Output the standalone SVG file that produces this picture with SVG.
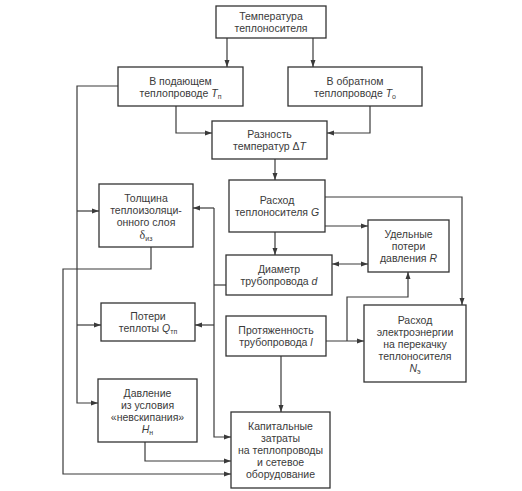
<svg xmlns="http://www.w3.org/2000/svg" width="522" height="491" viewBox="0 0 522 491">
<defs>
<marker id="ah" viewBox="0 0 7 6" refX="7" refY="3" markerWidth="7" markerHeight="6" markerUnits="userSpaceOnUse" orient="auto-start-reverse">
<path d="M0,0.5 L7,3 L0,5.5 z" fill="#3a3a3a"/>
</marker>
</defs>
<style>
.box{fill:#fff;stroke:#333;stroke-width:1.3}
.t{font-family:"Liberation Sans",Arial,sans-serif;font-size:10.5px;fill:#3a3a3a;text-anchor:middle}
.i{font-style:italic}
.s{font-size:7px}
.c{fill:none;stroke:#3a3a3a;stroke-width:1.2}
.a{marker-end:url(#ah)}
</style>
<rect width="522" height="491" fill="#fff"/>
<g id="connectors">
<path class="c a" d="M227,38 V67"/>
<path class="c a" d="M313,38 V67"/>
<path class="c a" d="M176,106 V133 H212"/>
<path class="c a" d="M370,106 V133 H327"/>
<path class="c a" d="M275,159 V180"/>
<path class="c a" d="M275,232 V255"/>
<path class="c a" d="M325,226 H368"/>
<path class="c a" d="M325,197 H462 V305"/>
<path class="c a" d="M332,264 H368" marker-start="url(#ah)"/>
<path class="c a" d="M326,341 H364"/>
<path class="c a" d="M347,341 V297 H408 V272"/>
<path class="c a" d="M281,356 V412"/>
<path class="c" d="M226,285 H214"/>
<path class="c a" d="M214,208 H193"/>
<path class="c a" d="M214,208 V437 H231"/>
<path class="c a" d="M214,325 H195"/>
<path class="c a" d="M118,86 H77 V403 H98"/>
<path class="c a" d="M77,211 H99"/>
<path class="c a" d="M77,325 H101"/>
<path class="c a" d="M151,247 V269 H63 V474 H231"/>
<path class="c a" d="M145,442 V461 H231"/>
</g>
<g id="n-temp">
<rect class="box" x="216" y="6" width="110" height="32"/>
<text class="t" x="271" y="20">Температура</text>
<text class="t" x="271" y="32">теплоносителя</text>
</g>
<g id="n-supply">
<rect class="box" x="118" y="67" width="125" height="39"/>
<text class="t" x="180.5" y="84.5">В подающем</text>
<text class="t" x="180.5" y="96.5">теплопроводе <tspan class="i">T</tspan><tspan class="s" dy="2">п</tspan></text>
</g>
<g id="n-return">
<rect class="box" x="288" y="67" width="134" height="39"/>
<text class="t" x="355" y="84.5">В обратном</text>
<text class="t" x="355" y="96.5">теплопроводе <tspan class="i">T</tspan><tspan class="s" dy="2">о</tspan></text>
</g>
<g id="n-delta">
<rect class="box" x="212" y="121" width="115" height="38"/>
<text class="t" x="269.5" y="138">Разность</text>
<text class="t" x="269.5" y="150">температур Δ<tspan class="i">T</tspan></text>
</g>
<g id="n-flow">
<rect class="box" x="229" y="180" width="96" height="52"/>
<text class="t" x="277" y="204">Расход</text>
<text class="t" x="277" y="216">теплоносителя <tspan class="i">G</tspan></text>
</g>
<g id="n-loss-r">
<rect class="box" x="368" y="220" width="81" height="52"/>
<text class="t" x="408.5" y="238">Удельные</text>
<text class="t" x="408.5" y="250">потери</text>
<text class="t" x="408.5" y="262">давления <tspan class="i">R</tspan></text>
</g>
<g id="n-diam">
<rect class="box" x="226" y="255" width="106" height="40"/>
<text class="t" x="279" y="273">Диаметр</text>
<text class="t" x="279" y="285">трубопровода <tspan class="i">d</tspan></text>
</g>
<g id="n-length">
<rect class="box" x="226" y="316" width="100" height="40"/>
<text class="t" x="276" y="334">Протяженность</text>
<text class="t" x="276" y="346">трубопровода <tspan class="i">l</tspan></text>
</g>
<g id="n-power">
<rect class="box" x="364" y="305" width="102" height="77"/>
<text class="t" x="415" y="323.5">Расход</text>
<text class="t" x="415" y="335.5">электроэнергии</text>
<text class="t" x="415" y="347.5">на перекачку</text>
<text class="t" x="415" y="359.5">теплоносителя</text>
<text class="t" x="415" y="371.5"><tspan class="i">N</tspan><tspan class="s" dy="2">э</tspan></text>
</g>
<g id="n-capex">
<rect class="box" x="231" y="412" width="99" height="76"/>
<text class="t" x="280.5" y="430">Капитальные</text>
<text class="t" x="280.5" y="442">затраты</text>
<text class="t" x="280.5" y="454">на теплопроводы</text>
<text class="t" x="280.5" y="466">и сетевое</text>
<text class="t" x="280.5" y="478">оборудование</text>
</g>
<g id="n-insul">
<rect class="box" x="99" y="184" width="94" height="63"/>
<text class="t" x="146" y="201.5">Толщина</text>
<text class="t" x="146" y="213.5">теплоизоляци-</text>
<text class="t" x="146" y="225.5">онного слоя</text>
<text class="t" x="146" y="238.5"><tspan font-family="Liberation Serif,serif" font-size="12">δ</tspan><tspan class="s" dy="2">из</tspan></text>
</g>
<g id="n-heatloss">
<rect class="box" x="101" y="303" width="94" height="38"/>
<text class="t" x="148" y="320">Потери</text>
<text class="t" x="148" y="332">теплоты <tspan class="i">Q</tspan><tspan class="s" dy="2">тп</tspan></text>
</g>
<g id="n-pressure">
<rect class="box" x="98" y="379" width="99" height="63"/>
<text class="t" x="147.5" y="396.5">Давление</text>
<text class="t" x="147.5" y="408.5">из условия</text>
<text class="t" x="147.5" y="420.5">«невскипания»</text>
<text class="t" x="147.5" y="432.5"><tspan class="i">H</tspan><tspan class="s" dy="2">н</tspan></text>
</g>
</svg>
